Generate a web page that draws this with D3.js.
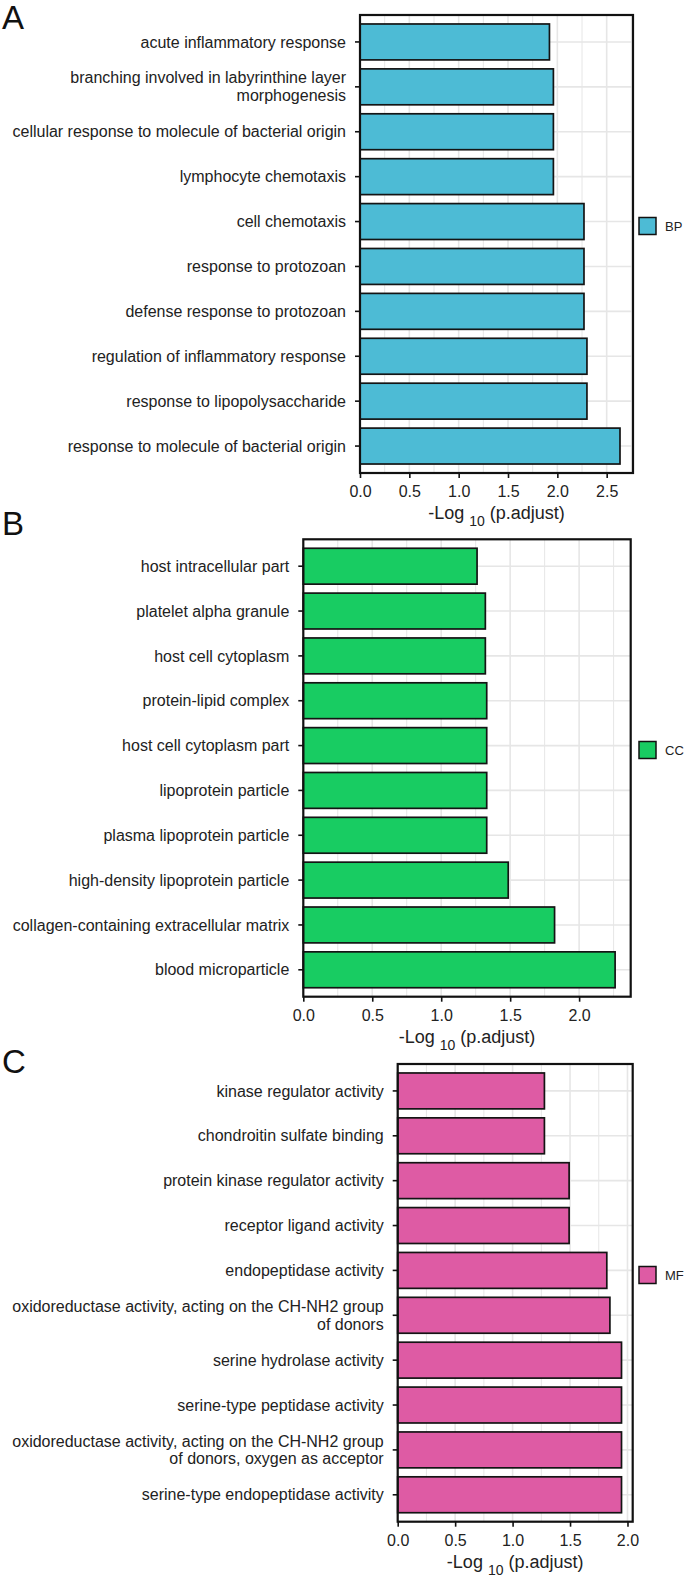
<!DOCTYPE html>
<html>
<head>
<meta charset="utf-8">
<script src="https://cdn.jsdelivr.net/npm/d3@7"></script>
<style>
  html, body { margin: 0; padding: 0; background: #fff; }
  svg { display: block; font-family: "Liberation Sans", Arial, Helvetica, sans-serif; }
</style>
</head>
<body>
<svg id="chart" width="685" height="1578"></svg>
<script>
// ---------- DATA ----------
const bpTerms = [
  "acute inflammatory response",
  "branching involved in labyrinthine layer\nmorphogenesis",
  "cellular response to molecule of bacterial origin",
  "lymphocyte chemotaxis",
  "cell chemotaxis",
  "response to protozoan",
  "defense response to protozoan",
  "regulation of inflammatory response",
  "response to lipopolysaccharide",
  "response to molecule of bacterial origin"
];
const bpValues = [1.92, 1.96, 1.96, 1.96, 2.27, 2.27, 2.27, 2.30, 2.30, 2.635];
const bpTicks = [0, 0.5, 1.0, 1.5, 2.0, 2.5];

const ccTerms = [
  "host intracellular part",
  "platelet alpha granule",
  "host cell cytoplasm",
  "protein-lipid complex",
  "host cell cytoplasm part",
  "lipoprotein particle",
  "plasma lipoprotein particle",
  "high-density lipoprotein particle",
  "collagen-containing extracellular matrix",
  "blood microparticle"
];
const ccValues = [1.26, 1.32, 1.32, 1.33, 1.33, 1.33, 1.33, 1.486, 1.822, 2.261];
const ccTicks = [0, 0.5, 1.0, 1.5, 2.0];

const mfTerms = [
  "kinase regulator activity",
  "chondroitin sulfate binding",
  "protein kinase regulator activity",
  "receptor ligand activity",
  "endopeptidase activity",
  "oxidoreductase activity, acting on the CH-NH2 group\nof donors",
  "serine hydrolase activity",
  "serine-type peptidase activity",
  "oxidoreductase activity, acting on the CH-NH2 group\nof donors, oxygen as acceptor",
  "serine-type endopeptidase activity"
];
const mfValues = [1.277, 1.277, 1.492, 1.492, 1.82, 1.847, 1.948, 1.948, 1.948, 1.948];
const mfTicks = [0, 0.5, 1.0, 1.5, 2.0];

const panelLetters = ["A", "B", "C"];
const legendLabels = ["BP", "CC", "MF"];
const barColors = ["#4DBBD5", "#18CC62", "#DE5BA4"];
const axisTitleMain = "-Log";
const axisTitleSub = "10";
const axisTitleTail = " (p.adjust)";

// ---------- LAYOUT ----------
const panels = [
  { terms: bpTerms, values: bpValues, ticks: bpTicks, box: [360, 15, 633, 473], letterY: 29, legendY: 226 },
  { terms: ccTerms, values: ccValues, ticks: ccTicks, box: [303.3, 539.3, 630.7, 996.7], letterY: 535, legendY: 750 },
  { terms: mfTerms, values: mfValues, ticks: mfTicks, box: [397.7, 1064, 632.7, 1521.7], letterY: 1073, legendY: 1275 }
];

const svg = d3.select("#chart");
const gridColor = "#E6E6E6";

panels.forEach((p, i) => {
  const [x0, y0, x1, y1] = p.box;
  const g = svg.append("g");

  const x = d3.scaleLinear()
    .domain([0, d3.max(p.values) * 1.05])
    .range([x0, x1]);
  const y = d3.scaleBand()
    .domain(p.terms)
    .range([y0, y1])
    .paddingInner(0.2)
    .paddingOuter(0.2);

  // minor vertical grid
  const maxT = x.domain()[1];
  const minor = d3.range(0.25, maxT, 0.5);
  g.selectAll(".minor").data(minor).join("line")
    .attr("x1", d => x(d)).attr("x2", d => x(d))
    .attr("y1", y0).attr("y2", y1)
    .attr("stroke", gridColor).attr("stroke-width", 1);
  // major vertical grid
  g.selectAll(".major").data(p.ticks).join("line")
    .attr("x1", d => x(d)).attr("x2", d => x(d))
    .attr("y1", y0).attr("y2", y1)
    .attr("stroke", gridColor).attr("stroke-width", 1.6);
  // horizontal grid
  g.selectAll(".hgrid").data(p.terms).join("line")
    .attr("x1", x0).attr("x2", x1)
    .attr("y1", d => y(d) + y.bandwidth() / 2)
    .attr("y2", d => y(d) + y.bandwidth() / 2)
    .attr("stroke", gridColor).attr("stroke-width", 1.6);

  // bars
  g.selectAll(".bar").data(p.terms).join("rect")
    .attr("x", x(0))
    .attr("y", d => y(d))
    .attr("width", (d, k) => x(p.values[k]) - x(0))
    .attr("height", y.bandwidth())
    .attr("fill", barColors[i])
    .attr("stroke", "#141414")
    .attr("stroke-width", 1.7);

  // panel border
  g.append("rect")
    .attr("x", x0).attr("y", y0)
    .attr("width", x1 - x0).attr("height", y1 - y0)
    .attr("fill", "none").attr("stroke", "#111").attr("stroke-width", 2.2);

  // x axis
  const xa = g.append("g")
    .attr("transform", `translate(0,${y1})`)
    .call(d3.axisBottom(x).tickValues(p.ticks).tickFormat(d3.format(".1f")).tickSize(5).tickPadding(8));
  xa.select(".domain").remove();
  xa.selectAll(".tick line").attr("stroke", "#111").attr("stroke-width", 1.6);
  xa.selectAll(".tick text").attr("font-size", 16).attr("fill", "#222")
    .attr("font-family", "Liberation Sans, Arial, sans-serif");

  // y axis
  const ya = g.append("g")
    .attr("transform", `translate(${x0},0)`)
    .call(d3.axisLeft(y).tickSize(5).tickPadding(9).tickFormat(""));
  ya.select(".domain").remove();
  ya.selectAll(".tick line").attr("stroke", "#111").attr("stroke-width", 1.6);
  ya.selectAll(".tick").each(function(d) {
    const lines = d.split("\n");
    const lh = 18;
    const t = d3.select(this).append("text")
      .attr("text-anchor", "end")
      .attr("fill", "#222")
      .attr("font-size", 16)
      .attr("x", -14);
    lines.forEach((ln, j) => {
      t.append("tspan")
        .attr("x", -14)
        .attr("y", (j - (lines.length - 1) / 2) * lh)
        .attr("dy", "0.35em")
        .text(ln);
    });
  });

  // axis title
  const tt = g.append("text")
    .attr("x", (x0 + x1) / 2)
    .attr("y", y1 + 46)
    .attr("text-anchor", "middle")
    .attr("font-size", 18)
    .attr("fill", "#222");
  tt.append("tspan").text(axisTitleMain + " ");
  tt.append("tspan").attr("font-size", 14).attr("dy", 7).text(axisTitleSub);
  tt.append("tspan").attr("dy", -7).text(axisTitleTail);

  // legend
  g.append("rect")
    .attr("x", 639).attr("y", p.legendY - 8.5)
    .attr("width", 17).attr("height", 17)
    .attr("fill", barColors[i]).attr("stroke", "#111").attr("stroke-width", 1.5);
  g.append("text")
    .attr("x", 665).attr("y", p.legendY)
    .attr("dy", "0.35em")
    .attr("font-size", 13)
    .attr("fill", "#222")
    .text(legendLabels[i]);

  // panel letter
  svg.append("text")
    .attr("x", 2).attr("y", p.letterY)
    .attr("font-size", 33)
    .attr("fill", "#111")
    .text(panelLetters[i]);
});
</script>
</body>
</html>
